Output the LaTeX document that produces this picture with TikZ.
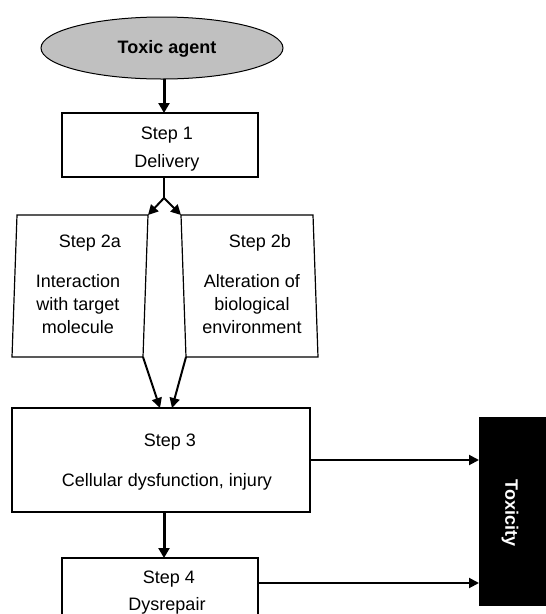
\documentclass[tikz,border=0pt]{standalone}
\usepackage{fontspec}
\setmainfont{Liberation Sans}
\usetikzlibrary{shapes.geometric,arrows.meta}
\definecolor{agentgray}{RGB}{192,192,192}
\begin{document}
\begin{tikzpicture}[x=1pt,y=-1pt,
  box/.style={draw,line width=1.2pt,inner sep=0pt,outer sep=0pt},
  agentshape/.style={ellipse,draw,line width=1pt,fill=agentgray,inner sep=0pt,outer sep=0pt,minimum width=242pt,minimum height=62pt},
  txt/.style={font=\fontsize{18}{21}\selectfont,inner sep=0pt,anchor=base},
  btxt/.style={font=\fontsize{18}{21}\selectfont\bfseries,inner sep=0pt,anchor=base},
  bigarrow/.style={line width=3pt,-{Triangle[length=10pt,width=11pt]}},
  arrow/.style={line width=2pt,-{Triangle[length=10pt,width=10pt]}},
  link/.style={line width=2pt},
  sidebox/.style={line width=1.2pt}]
\useasboundingbox (0,0) rectangle (546,614);
\clip (0,0) rectangle (546,614);
\fill[white] (0,0) rectangle (546,614);

% Toxic agent
\node[agentshape] (agent) at (162,48) {};
\node[btxt] (agentT) at (167,53) {Toxic agent};

% Step 1
\node[box,minimum width=196pt,minimum height=64pt] (s1) at (160,145) {};
\node[txt] (s1a) at (167,139) {Step 1};
\node[txt] (s1b) at (167,167) {Delivery};

\coordinate (spine) at (164,0);
\draw[bigarrow] (agent.south -| spine) -- (s1.north -| spine);

\coordinate (split) at (164,198);
\draw[link] (s1.south -| spine) -- (split);

% Step 2a
\coordinate (a1) at (17,215);
\coordinate (a2) at (148,215);
\coordinate (a3) at (143,357);
\coordinate (a4) at (12,357);
\draw[sidebox] (a1) -- (a2) -- (a3) -- (a4) -- cycle;
\node[txt] (s2a0) at (90,247) {Step 2a};
\node[txt] (s2a1) at (78,287) {Interaction};
\node[txt] (s2a2) at (78,310) {with target};
\node[txt] (s2a3) at (78,333) {molecule};

% Step 2b
\coordinate (b1) at (181,215);
\coordinate (b2) at (313,215);
\coordinate (b3) at (318,357);
\coordinate (b4) at (186,357);
\draw[sidebox] (b1) -- (b2) -- (b3) -- (b4) -- cycle;
\node[txt] (s2b0) at (260,247) {Step 2b};
\node[txt] (s2b1) at (252,287) {Alteration of};
\node[txt] (s2b2) at (252,310) {biological};
\node[txt] (s2b3) at (252,333) {environment};

\draw[arrow] (split) -- (a2);
\draw[arrow] (split) -- (b1);

% Step 3
\node[box,minimum width=298pt,minimum height=104pt] (s3) at (161,460) {};
\node[txt] (s3a) at (170,446) {Step 3};
\node[txt] (s3b) at (167,486) {Cellular dysfunction, injury};

\draw[arrow] (a3) -- ([xshift=-1pt]s3.north);
\draw[arrow] (b4) -- ([xshift=11pt]s3.north);

% Step 4
\node[box,minimum width=196pt,minimum height=80pt] (s4) at (160,598) {};
\node[txt] (s4a) at (169,583) {Step 4};
\node[txt] (s4b) at (167,610) {Dysrepair};

\draw[bigarrow] (s3.south -| spine) -- (s4.north -| spine);

% Toxicity
\node[fill=black,inner sep=0pt,outer sep=0pt,minimum width=72pt,minimum height=189pt] (tox) at (515,511.5) {};
\node[btxt,white,rotate=-90,anchor=center] (toxT) at (510,513) {Toxicity};

\draw[arrow] (s3.east) -- (s3.east -| tox.west);
\coordinate (s4o) at ([yshift=15pt]s4.east);
\draw[arrow] (s4o) -- (s4o -| tox.west);
\end{tikzpicture}
\end{document}
